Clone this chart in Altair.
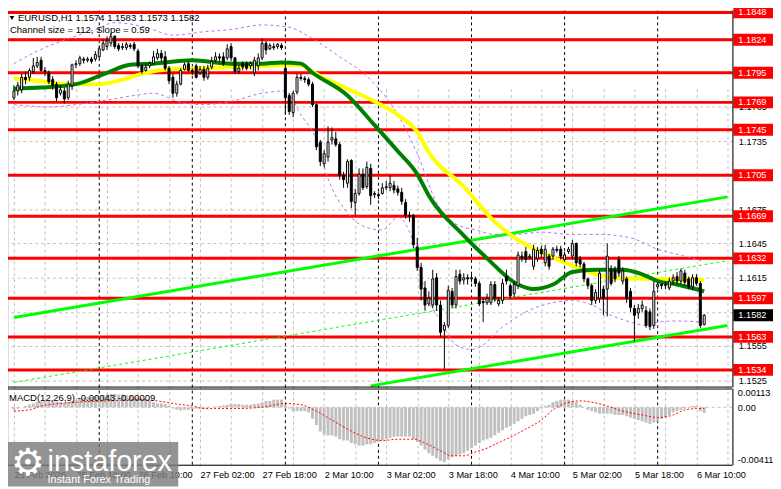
import altair as alt
import pandas as pd

FONT = "Liberation Sans"
FS = 9.3

# ---------------- time axis (bar index 0 = 25 Feb 02:00, H1 bars) ----------------
TIME_LABELS = ["25 Feb 2026", "25 Feb 18:00", "26 Feb 10:00", "27 Feb 02:00", "27 Feb 18:00",
               "2 Mar 10:00", "3 Mar 02:00", "3 Mar 18:00", "4 Mar 10:00", "5 Mar 02:00",
               "5 Mar 18:00", "6 Mar 10:00"]
X_GRID = [0, 8, 16, 24, 32, 40, 48, 56, 64, 72, 80, 88, 96, 104, 112, 120, 128, 136,
          144, 152, 160, 168, 176, 184]
DAY_STARTS = [22, 46, 70, 94, 118, 142, 166]

# ---------------- candles ----------------
opens = [1.1773, 1.1779, 1.1780, 1.1791, 1.1791, 1.1796, 1.1801, 1.1806, 1.1797, 1.1795,
         1.1789, 1.1785, 1.1777, 1.1779, 1.1773, 1.1784, 1.1802, 1.1803, 1.1807, 1.1806,
         1.1807, 1.1807, 1.1809, 1.1815, 1.1818, 1.1821, 1.1827, 1.1819, 1.1817, 1.1817,
         1.1819, 1.1820, 1.1814, 1.1801, 1.1797, 1.1801, 1.1803, 1.1808, 1.1812, 1.1809,
         1.1799, 1.1791, 1.1777, 1.1785, 1.1798, 1.1803, 1.1797, 1.1801, 1.1795, 1.1798,
         1.1791, 1.1800, 1.1806, 1.1809, 1.1809, 1.1808, 1.1818, 1.1808, 1.1796, 1.1803,
         1.1803, 1.1801, 1.1795, 1.1801, 1.1808, 1.1821, 1.1816, 1.1818, 1.1818, 1.1819,
         1.1799, 1.1775, 1.1760, 1.1778, 1.1791, 1.1790, 1.1789, 1.1785, 1.1767, 1.1734,
         1.1715, 1.1721, 1.1736, 1.1737, 1.1732, 1.1705, 1.1698, 1.1718, 1.1681, 1.1689,
         1.1706, 1.1695, 1.1711, 1.1688, 1.1688, 1.1689, 1.1694, 1.1694, 1.1696, 1.1693,
         1.1690, 1.1681, 1.1670, 1.1670, 1.1642, 1.1624, 1.1606, 1.1592, 1.1591, 1.1615,
         1.1591, 1.1569, 1.1573, 1.1603, 1.1591, 1.1618, 1.1613, 1.1615, 1.1614, 1.1614,
         1.1610, 1.1594, 1.1593, 1.1593, 1.1609, 1.1592, 1.1595, 1.1616, 1.1608, 1.1601,
         1.1608, 1.1634, 1.1638, 1.1633, 1.1625, 1.1632, 1.1640, 1.1628, 1.1634, 1.1634,
         1.1640, 1.1640, 1.1631, 1.1638, 1.1634, 1.1645, 1.1631, 1.1627, 1.1614, 1.1608,
         1.1595, 1.1597, 1.1605, 1.1605, 1.1622, 1.1622, 1.1631, 1.1612, 1.1614, 1.1603,
         1.1588, 1.1584, 1.1588, 1.1586, 1.1585, 1.1573, 1.1607, 1.1609, 1.1608, 1.1606,
         1.1612, 1.1616, 1.1612, 1.1619, 1.1614, 1.1607, 1.1615, 1.1610, 1.1574]
highs = [1.1784, 1.1787, 1.1794, 1.1796, 1.1799, 1.1808, 1.1809, 1.1809, 1.1800, 1.1797,
         1.1792, 1.1787, 1.1784, 1.1782, 1.1788, 1.1803, 1.1806, 1.1810, 1.1809, 1.1809,
         1.1809, 1.1814, 1.1819, 1.1824, 1.1827, 1.1830, 1.1828, 1.1821, 1.1821, 1.1822,
         1.1821, 1.1822, 1.1816, 1.1803, 1.1803, 1.1805, 1.1814, 1.1816, 1.1815, 1.1814,
         1.1801, 1.1794, 1.1788, 1.1799, 1.1804, 1.1805, 1.1799, 1.1803, 1.1801, 1.1801,
         1.1802, 1.1809, 1.1813, 1.1812, 1.1813, 1.1820, 1.1821, 1.1809, 1.1802, 1.1805,
         1.1805, 1.1805, 1.1809, 1.1812, 1.1825, 1.1823, 1.1821, 1.1821, 1.1821, 1.1821,
         1.1803, 1.1777, 1.1779, 1.1794, 1.1794, 1.1792, 1.1791, 1.1787, 1.1768, 1.1736,
         1.1727, 1.1748, 1.1747, 1.1743, 1.1734, 1.1708, 1.1719, 1.1719, 1.1693, 1.1711,
         1.1711, 1.1717, 1.1715, 1.1691, 1.1690, 1.1698, 1.1700, 1.1705, 1.1700, 1.1696,
         1.1694, 1.1684, 1.1673, 1.1671, 1.1650, 1.1628, 1.1612, 1.1603, 1.1622, 1.1619,
         1.1595, 1.1576, 1.1608, 1.1606, 1.1622, 1.1622, 1.1619, 1.1618, 1.1618, 1.1616,
         1.1612, 1.1597, 1.1601, 1.1612, 1.1612, 1.1598, 1.1614, 1.1622, 1.1610, 1.1612,
         1.1638, 1.1638, 1.1642, 1.1636, 1.1644, 1.1642, 1.1643, 1.1644, 1.1636, 1.1642,
         1.1643, 1.1643, 1.1638, 1.1642, 1.1648, 1.1646, 1.1634, 1.1629, 1.1615, 1.1610,
         1.1605, 1.1622, 1.1608, 1.1645, 1.1626, 1.1625, 1.1634, 1.1624, 1.1616, 1.1606,
         1.1591, 1.1592, 1.1595, 1.1590, 1.1588, 1.1612, 1.1611, 1.1610, 1.1612, 1.1615,
         1.1618, 1.1620, 1.1623, 1.1622, 1.1616, 1.1618, 1.1618, 1.1612, 1.1583]
lows = [1.1771, 1.1775, 1.1777, 1.1785, 1.1788, 1.1794, 1.1799, 1.1796, 1.1792, 1.1785,
        1.1780, 1.1770, 1.1775, 1.1768, 1.1771, 1.1780, 1.1799, 1.1801, 1.1803, 1.1804,
        1.1803, 1.1805, 1.1808, 1.1814, 1.1815, 1.1818, 1.1816, 1.1814, 1.1815, 1.1815,
        1.1816, 1.1814, 1.1799, 1.1794, 1.1796, 1.1799, 1.1802, 1.1806, 1.1805, 1.1797,
        1.1785, 1.1773, 1.1774, 1.1784, 1.1797, 1.1796, 1.1793, 1.1790, 1.1793, 1.1788,
        1.1789, 1.1798, 1.1804, 1.1805, 1.1801, 1.1806, 1.1805, 1.1794, 1.1794, 1.1797,
        1.1797, 1.1798, 1.1792, 1.1797, 1.1806, 1.1811, 1.1815, 1.1815, 1.1816, 1.1815,
        1.1758, 1.1758, 1.1756, 1.1776, 1.1788, 1.1786, 1.1783, 1.1765, 1.1727, 1.1713,
        1.1712, 1.1717, 1.1732, 1.1730, 1.1701, 1.1694, 1.1694, 1.1676, 1.1670, 1.1687,
        1.1692, 1.1693, 1.1679, 1.1685, 1.1684, 1.1688, 1.1692, 1.1691, 1.1689, 1.1687,
        1.1679, 1.1667, 1.1664, 1.1641, 1.1621, 1.1595, 1.1586, 1.1590, 1.1588, 1.1586,
        1.1563, 1.1535, 1.1571, 1.1588, 1.1588, 1.1609, 1.1609, 1.1609, 1.1611, 1.1607,
        1.1590, 1.1576, 1.1591, 1.1591, 1.1594, 1.1590, 1.1592, 1.1609, 1.1597, 1.1598,
        1.1605, 1.1629, 1.1628, 1.1631, 1.1622, 1.1629, 1.1633, 1.1625, 1.1622, 1.1631,
        1.1637, 1.1631, 1.1629, 1.1636, 1.1631, 1.1625, 1.1624, 1.1611, 1.1605, 1.1591,
        1.1592, 1.1593, 1.1582, 1.1581, 1.1608, 1.1611, 1.1616, 1.1609, 1.1593, 1.1585,
        1.1559, 1.1579, 1.1585, 1.1571, 1.1569, 1.1570, 1.1605, 1.1605, 1.1605, 1.1604,
        1.1609, 1.1609, 1.1609, 1.1608, 1.1605, 1.1604, 1.1608, 1.1571, 1.1573]
closes = [1.1779, 1.1784, 1.1791, 1.1789, 1.1797, 1.1801, 1.1804, 1.1797, 1.1796, 1.1787,
          1.1784, 1.1773, 1.1780, 1.1772, 1.1785, 1.1802, 1.1803, 1.1808, 1.1806, 1.1807,
          1.1805, 1.1811, 1.1816, 1.1821, 1.1823, 1.1827, 1.1818, 1.1816, 1.1818, 1.1820,
          1.1818, 1.1816, 1.1801, 1.1796, 1.1800, 1.1803, 1.1809, 1.1812, 1.1808, 1.1799,
          1.1788, 1.1777, 1.1785, 1.1797, 1.1802, 1.1797, 1.1796, 1.1791, 1.1798, 1.1791,
          1.1799, 1.1805, 1.1809, 1.1808, 1.1803, 1.1816, 1.1808, 1.1796, 1.1799, 1.1800,
          1.1799, 1.1803, 1.1806, 1.1808, 1.1821, 1.1815, 1.1819, 1.1817, 1.1820, 1.1817,
          1.1773, 1.1761, 1.1777, 1.1791, 1.1790, 1.1789, 1.1785, 1.1767, 1.1730, 1.1717,
          1.1724, 1.1734, 1.1738, 1.1732, 1.1705, 1.1701, 1.1717, 1.1682, 1.1689, 1.1706,
          1.1694, 1.1712, 1.1687, 1.1689, 1.1687, 1.1694, 1.1695, 1.1698, 1.1692, 1.1690,
          1.1682, 1.1670, 1.1669, 1.1644, 1.1624, 1.1605, 1.1591, 1.1597, 1.1614, 1.1591,
          1.1567, 1.1573, 1.1604, 1.1591, 1.1616, 1.1612, 1.1615, 1.1614, 1.1615, 1.1610,
          1.1592, 1.1593, 1.1597, 1.1609, 1.1597, 1.1595, 1.1610, 1.1612, 1.1599, 1.1609,
          1.1635, 1.1632, 1.1631, 1.1634, 1.1640, 1.1639, 1.1636, 1.1640, 1.1625, 1.1640,
          1.1639, 1.1634, 1.1635, 1.1640, 1.1645, 1.1628, 1.1627, 1.1614, 1.1608, 1.1595,
          1.1602, 1.1619, 1.1597, 1.1634, 1.1610, 1.1614, 1.1619, 1.1621, 1.1597, 1.1589,
          1.1582, 1.1588, 1.1591, 1.1573, 1.1572, 1.1603, 1.1609, 1.1608, 1.1609, 1.1612,
          1.1615, 1.1612, 1.1621, 1.1611, 1.1607, 1.1615, 1.1610, 1.1573, 1.1582]

# ---------------- moving averages ----------------
yellow_i = [0, 6, 14, 22, 28, 34, 40, 49, 56, 64, 73, 79, 86, 94, 99, 104, 107, 116, 124, 131,
            139, 146, 154, 164, 178]
yellow_p = [1.1790, 1.1788, 1.1785, 1.1785, 1.1789, 1.1795, 1.1798, 1.1799, 1.1800, 1.1801,
            1.1802, 1.1792, 1.1781, 1.1768, 1.1758, 1.1743, 1.1725, 1.1695, 1.1664, 1.1646,
            1.1633, 1.1623, 1.1615, 1.1614, 1.1613]
green_i = [0, 7, 16, 24, 30, 36, 46, 56, 64, 69, 74, 77, 86, 93, 99, 104, 107, 116, 122, 130,
           134, 139, 144, 150, 157, 162, 166, 171, 178]
green_p = [1.1781, 1.1782, 1.1785, 1.1795, 1.1802, 1.1803, 1.1806, 1.1803, 1.1803, 1.1804,
           1.1803, 1.1795, 1.1775, 1.1749, 1.1726, 1.1706, 1.1687, 1.1652, 1.1632, 1.1609,
           1.1605, 1.1609, 1.1620, 1.1622, 1.1622, 1.1618, 1.1612, 1.1609, 1.1603]

# ---------------- bands (dashed violet) ----------------
upper_i = [0, 6, 14, 21, 26, 34, 41, 49, 56, 64, 71, 76, 84, 91, 99, 104, 109, 114, 119, 124,
           129, 136, 144, 151, 159, 166, 174, 178]
upper_p = [1.1803, 1.1814, 1.1825, 1.1833, 1.1839, 1.1835, 1.1828, 1.1831, 1.1833, 1.1837,
           1.1835, 1.1827, 1.1809, 1.1792, 1.1758, 1.1724, 1.1681, 1.1662, 1.1657, 1.1653,
           1.1653, 1.1655, 1.1653, 1.1653, 1.1650, 1.1640, 1.1633, 1.1629]
lower_i = [0, 9, 16, 24, 31, 36, 43, 49, 56, 64, 70, 74, 78, 81, 86, 91, 95, 99, 103, 106,
           110, 114, 118, 121, 125, 129, 134, 139, 144, 149, 154, 159, 163, 166, 171, 178]
lower_p = [1.1767, 1.1765, 1.1767, 1.1771, 1.1775, 1.1777, 1.1769, 1.1767, 1.1770, 1.1777,
           1.1779, 1.1758, 1.1736, 1.1702, 1.1672, 1.1659, 1.1657, 1.1668, 1.1646, 1.1603,
           1.1577, 1.1556, 1.1552, 1.1556, 1.1569, 1.1579, 1.1588, 1.1593, 1.1595, 1.1591,
           1.1582, 1.1576, 1.1573, 1.1576, 1.1577, 1.1576]

# ---------------- regression channel (lime) ----------------
chan_line = ["upper", "upper", "lower", "lower"]
chan_i = [0, 184, 92, 184]
chan_p = [1.1580, 1.1686, 1.1520, 1.1573]
mid_i = [0, 184]
mid_p = [1.1523, 1.1630]

# ---------------- horizontal levels ----------------
LEVELS = [1.1848, 1.1824, 1.1795, 1.1769, 1.1745, 1.1705, 1.1669, 1.1632, 1.1597, 1.1563, 1.1534]
CURRENT = [1.1582]
PRICE_TICKS = [1.1525, 1.1555, 1.1585, 1.1615, 1.1645, 1.1675, 1.1705, 1.1735, 1.1765,
               1.1795, 1.1825]
HIDDEN_TICKS = ["1.1585", "1.1705", "1.1795", "1.1825"]  # covered by level boxes

# ---------------- MACD ----------------
hist = [-0.0002, -0.0001, 0.0000, 0.0001, 0.0002, 0.0003, 0.0004, 0.00045, 0.0005, 0.0005,
        0.0005, 0.00045, 0.0004, 0.00035, 0.0004, 0.0005, 0.0006, 0.0007, 0.00075, 0.0008,
        0.0008, 0.00085, 0.0009, 0.00095, 0.0010, 0.00105, 0.00105, 0.0010, 0.0010, 0.00095,
        0.0009, 0.00085, 0.0008, 0.0007, 0.0006, 0.0005, 0.0004, 0.0003, 0.0003, 0.00025,
        0.0001, -0.0001, -0.0002, -0.00025, -0.0002, -0.0002, -0.00015, -0.0001, -0.0001, -0.0001,
        -0.00005, 0.0, 0.00005, 0.0001, 0.00015, 0.0002, 0.0003, 0.00025, 0.00025, 0.0002,
        0.0002, 0.0002, 0.00025, 0.0003, 0.0004, 0.0005, 0.0005, 0.0006, 0.0006, 0.0006,
        0.0002, -0.0001, -0.0003, -0.0003, -0.0003, -0.0003, -0.0004, -0.0009, -0.0014, -0.0019,
        -0.0021, -0.0022, -0.0022, -0.0023, -0.0025, -0.0026, -0.0026, -0.0028, -0.0029, -0.0030,
        -0.0030, -0.0029, -0.0029, -0.0028, -0.0027, -0.0026, -0.0025, -0.0024, -0.0023, -0.0023,
        -0.0023, -0.0023, -0.0023, -0.0025, -0.0027, -0.0030, -0.0033, -0.0036, -0.0038, -0.0040,
        -0.0042, -0.0043, -0.0041, -0.0039, -0.0038, -0.0037, -0.0036, -0.0034, -0.0032, -0.0030,
        -0.0028, -0.0026, -0.0025, -0.0024, -0.0022, -0.0020, -0.0018, -0.0016, -0.0015, -0.0013,
        -0.0011, -0.0009, -0.0007, -0.0006, -0.0005, -0.0003, -0.0001, 0.0001, 0.0002, 0.0004,
        0.0005, 0.0006, 0.0006, 0.0006, 0.0005, 0.0004, 0.0002, 0.0, -0.0002, -0.0003,
        -0.0004, -0.0005, -0.0005, -0.0005, -0.0005, -0.0006, -0.0006, -0.0006, -0.0007, -0.0008,
        -0.0009, -0.0010, -0.0011, -0.0012, -0.0013, -0.0012, -0.0011, -0.0009, -0.0008, -0.0006,
        -0.0004, -0.0003, -0.0002, -0.0001, 0.0, 0.0001, 0.0001, -0.0003, -0.00043]
sig_i = [0, 4, 7, 12, 16, 24, 32, 37, 41, 46, 49, 56, 64, 70, 74, 78, 82, 86, 91, 95, 99, 103,
         106, 110, 113, 116, 119, 122, 124, 129, 132, 136, 139, 142, 146, 149, 153, 157, 162,
         166, 170, 173, 176, 178]
sig_v = [-0.0003, -0.0002, 0.0001, 0.0003, 0.0004, 0.0005, 0.0006, 0.0005, 0.0003, 0.0001,
         -0.0001, -0.0001, 0.0000, 0.0003, 0.0002, -0.0003, -0.0010, -0.0017, -0.0024, -0.0026,
         -0.0025, -0.0025, -0.0028, -0.0034, -0.0038, -0.0038, -0.0035, -0.0032, -0.0029, -0.0022,
         -0.0017, -0.0010, -0.0002, 0.0003, 0.0005, 0.0004, 0.0001, -0.0003, -0.0006, -0.0008,
         -0.0006, -0.0002, -0.0001, -0.00009]
MACD_TICKS = [0.00113, 0.0, -0.00411]

TITLE = "EURUSD,H1  1.1574 1.1583 1.1573 1.1582"
SUBTITLE = "Channel size = 112, Slope = 0.59"
MACD_TITLE = "MACD(12,26,9) -0.00043 -0.00009"

# ---------------- scales & axes ----------------
W, H = 732, 459
XS = alt.Scale(domain=[-0.25, 184], range=[0, W], nice=False, zero=False)
PS = alt.Scale(domain=[1.15194, 1.18523], range=[380, -3], nice=False, zero=False)
MS = alt.Scale(domain=[-0.0045, 0.00147], range=[H, 382], nice=False, zero=False)

tl_arr = "[" + ",".join("'%s'" % t for t in TIME_LABELS) + "]"
hid_arr = "[" + ",".join("'%s'" % t for t in HIDDEN_TICKS) + "]"
XAXIS = alt.Axis(values=X_GRID, grid=True, gridColor="#C0C0C0", gridDash=[3, 3], gridWidth=1,
                 labelExpr="datum.value % 16 == 0 ? " + tl_arr + "[datum.value / 16] : ''",
                 labelAlign="left", labelBaseline="top", labelPadding=6, labelFont=FONT,
                 labelFontSize=FS, labelColor="#000000", labelOverlap=False, labelFlush=False,
                 ticks=False, tickSize=0, domain=False, title=None)
PAXIS = alt.Axis(orient="right", values=PRICE_TICKS, grid=True, gridColor="#C0C0C0",
                 gridDash=[3, 3], gridWidth=1, ticks=False, tickSize=0, domain=False,
                 labelExpr="indexof(" + hid_arr + ", format(datum.value, '.4f')) >= 0 ? '' : format(datum.value, '.4f')",
                 labelPadding=6, labelFont=FONT, labelFontSize=FS, labelColor="#000000",
                 labelOverlap=False, labelFlush=False, title=None)
MAXIS = alt.Axis(orient="right", values=MACD_TICKS,
                 labelExpr="datum.value == 0 ? '0.00' : (datum.value < 0 ? '-' + format(-datum.value, '.5f') : format(datum.value, '.5f'))",
                 grid=False, ticks=False, tickSize=0, domain=False, labelPadding=5,
                 labelFont=FONT, labelFontSize=FS, labelColor="#000000", labelOverlap=False,
                 labelFlush=False, title=None)


def X(f="i"):
    return alt.X(f + ":Q", scale=XS, axis=XAXIS)


def YP(f="p"):
    return alt.Y(f + ":Q", scale=PS, axis=PAXIS)


def YM(f="v"):
    return alt.Y(f + ":Q", scale=MS, axis=MAXIS)


n = len(closes)
cdf = pd.DataFrame({"i": list(range(n)), "o": opens, "h": highs, "l": lows, "c": closes})

sep = alt.Chart(pd.DataFrame({"i": DAY_STARTS})).mark_rule(
    color="black", strokeDash=[3, 3], strokeWidth=1).encode(x=X())
levels = alt.Chart(pd.DataFrame({"p": LEVELS})).mark_rule(
    color="#FF0000", strokeWidth=3).encode(y=YP())
chan = alt.Chart(pd.DataFrame({"line": chan_line, "i": chan_i, "p": chan_p})).mark_line(
    color="#00FF00", strokeWidth=3).encode(x=X(), y=YP(), detail="line:N")
mid = alt.Chart(pd.DataFrame({"i": mid_i, "p": mid_p})).mark_line(
    color="#00FF00", strokeWidth=1, strokeDash=[3, 3]).encode(x=X(), y=YP())
band_df = pd.DataFrame({"band": ["u"] * len(upper_i) + ["l"] * len(lower_i),
                        "i": upper_i + lower_i, "p": upper_p + lower_p})
bands = alt.Chart(band_df).mark_line(color="#C06EEA", strokeWidth=1, strokeDash=[3, 3],
                                     interpolate="monotone").encode(x=X(), y=YP(), detail="band:N")
ma_y = alt.Chart(pd.DataFrame({"i": yellow_i, "p": yellow_p})).mark_line(
    color="#FFFF00", strokeWidth=4, interpolate="monotone").encode(x=X(), y=YP())
ma_g = alt.Chart(pd.DataFrame({"i": green_i, "p": green_p})).mark_line(
    color="#008000", strokeWidth=4, interpolate="monotone").encode(x=X(), y=YP())
wick = alt.Chart(cdf).mark_rule(color="black", strokeWidth=1).encode(
    x=X(), y=YP("l"), y2=alt.Y2("h:Q"))
body = alt.Chart(cdf).mark_bar(size=2, stroke="black", strokeWidth=1).encode(
    x=X(), y=YP("o"), y2=alt.Y2("c:Q"),
    fill=alt.condition("datum.c > datum.o", alt.value("white"), alt.value("black")))
lvl_box = alt.Chart(pd.DataFrame({"p": LEVELS})).mark_rect(
    color="#FF0000", yOffset=-6, y2Offset=6).encode(
    y=YP(), y2=alt.Y2("p:Q"), x=alt.value(W + 1), x2=alt.value(W + 42))
lvl_txt = alt.Chart(pd.DataFrame({"p": LEVELS})).mark_text(
    align="left", baseline="middle", color="white", font=FONT, fontSize=FS).encode(
    y=YP(), x=alt.value(W + 6), text=alt.Text("p:Q", format=".4f"))
cur_box = alt.Chart(pd.DataFrame({"p": CURRENT})).mark_rect(
    color="#000000", yOffset=-6, y2Offset=6).encode(
    y=YP(), y2=alt.Y2("p:Q"), x=alt.value(W + 1), x2=alt.value(W + 42))
cur_txt = alt.Chart(pd.DataFrame({"p": CURRENT})).mark_text(
    align="left", baseline="middle", color="white", font=FONT, fontSize=FS).encode(
    y=YP(), x=alt.value(W + 6), text=alt.Text("p:Q", format=".4f"))

tri = alt.Chart(pd.DataFrame({"t": ["v"]})).mark_point(
    shape="triangle-down", filled=True, color="black", size=22, opacity=1).encode(
    x=alt.value(4), y=alt.value(7.5))
title = alt.Chart(pd.DataFrame({"t": [TITLE]})).mark_text(
    align="left", baseline="alphabetic", font=FONT, fontSize=FS + 0.3, color="black").encode(
    x=alt.value(10), y=alt.value(11), text="t:N")
subtitle = alt.Chart(pd.DataFrame({"t": [SUBTITLE]})).mark_text(
    align="left", baseline="alphabetic", font=FONT, fontSize=FS + 0.3, color="black").encode(
    x=alt.value(2), y=alt.value(23), text="t:N")

price = alt.layer(sep, levels, chan, mid, bands, ma_y, ma_g, wick, body,
                  lvl_box, lvl_txt, cur_box, cur_txt, tri, title, subtitle)

zero = alt.Chart(pd.DataFrame({"v": [0.0]})).mark_rule(
    color="#C0C0C0", strokeDash=[3, 3], strokeWidth=1).encode(y=YM())
hbar = alt.Chart(pd.DataFrame({"i": list(range(len(hist))), "v": hist})).mark_bar(
    size=3, color="#C0C0C0").encode(x=X(), y=YM(), y2=alt.datum(0))
sig = alt.Chart(pd.DataFrame({"i": sig_i, "v": sig_v})).mark_line(
    color="#FF0000", strokeWidth=1, strokeDash=[2, 2], interpolate="monotone").encode(
    x=X(), y=YM())
mtitle = alt.Chart(pd.DataFrame({"t": [MACD_TITLE]})).mark_text(
    align="left", baseline="middle", font=FONT, fontSize=FS + 0.3, color="black").encode(
    x=alt.value(1), y=alt.value(391.5), text="t:N")
macd = alt.layer(zero, hbar, sig, mtitle)

one = pd.DataFrame({"k": [0]})
frame_r = alt.Chart(one).mark_rule(color="black", strokeWidth=1).encode(
    x=alt.value(W + 0.5), y=alt.value(0), y2=alt.value(380.5))
frame_r2 = alt.Chart(one).mark_rule(color="black", strokeWidth=1).encode(
    x=alt.value(W + 0.5), y=alt.value(382.5), y2=alt.value(H + 0.5))
frame_b = alt.Chart(one).mark_rule(color="black", strokeWidth=1).encode(
    x=alt.value(0), x2=alt.value(W), y=alt.value(380.5))
frame_t = alt.Chart(one).mark_rule(color="black", strokeWidth=1).encode(
    x=alt.value(0), x2=alt.value(W), y=alt.value(382.5))
frame_bb = alt.Chart(one).mark_rule(color="black", strokeWidth=1).encode(
    x=alt.value(0), x2=alt.value(W), y=alt.value(H + 0.5))

wm_box = alt.Chart(one).mark_rect(color="#7d7d7d", opacity=0.82).encode(
    x=alt.value(0), x2=alt.value(172), y=alt.value(436), y2=alt.value(481))
wm_gear = alt.Chart(pd.DataFrame({"t": ["\u2699"]})).mark_text(
    align="center", baseline="middle", font="DejaVu Sans", fontSize=38, color="white").encode(
    x=alt.value(20), y=alt.value(458), text="t:N")
wm_big = alt.Chart(pd.DataFrame({"t": ["instaforex"]})).mark_text(
    align="left", baseline="alphabetic", font=FONT, fontSize=29, color="white").encode(
    x=alt.value(40), y=alt.value(465), text="t:N")
wm_small = alt.Chart(pd.DataFrame({"t": ["Instant Forex Trading"]})).mark_text(
    align="left", baseline="alphabetic", font=FONT, fontSize=11, color="white").encode(
    x=alt.value(40), y=alt.value(477), text="t:N")

chart = alt.layer(price, macd, frame_r, frame_r2, frame_b, frame_t, frame_bb,
                  wm_box, wm_gear, wm_big, wm_small).resolve_scale(y="independent").properties(
    width=W, height=H,
    autosize=alt.AutoSizeParams(type="none"),
    padding={"left": 0, "top": 0, "right": 41, "bottom": 22},
).configure_view(strokeWidth=0).configure(background="white")

chart.save("out.html", embed_options={"renderer": "svg", "actions": False})
